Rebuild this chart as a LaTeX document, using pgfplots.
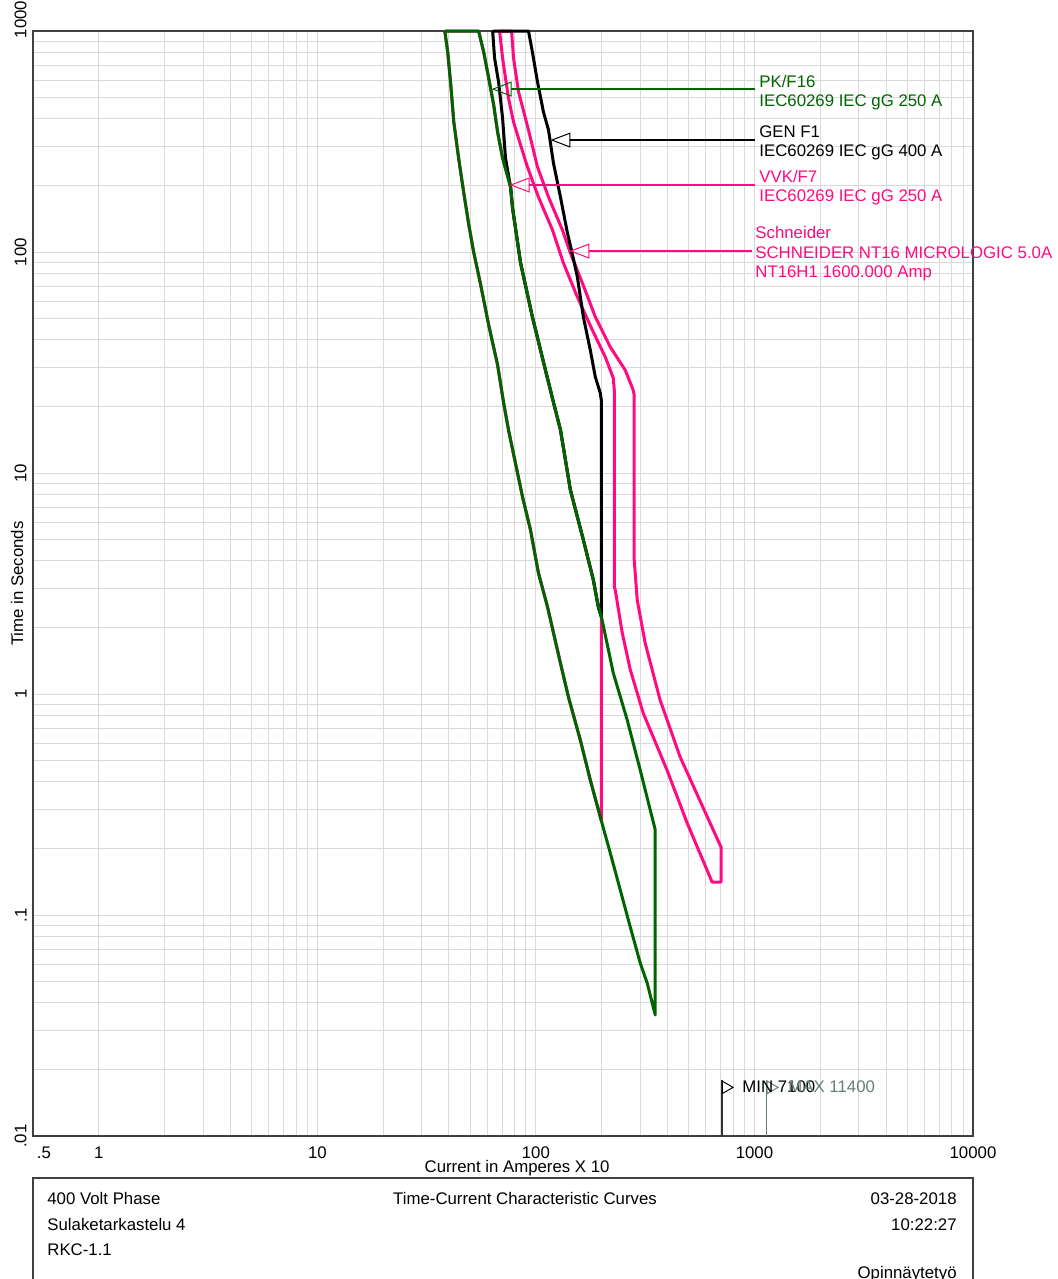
\documentclass[border=0pt]{standalone}
\usepackage{pgfplots}
\pgfplotsset{compat=1.18}
\usepackage{fontspec}
\setmainfont{Liberation Sans}
\usetikzlibrary{arrows.meta}
\definecolor{dgreen}{RGB}{0,100,0}
\definecolor{hpink}{RGB}{255,10,128}
\definecolor{maxgray}{RGB}{100,128,116}
\begin{document}
\begin{tikzpicture}[font=\fontsize{8.4}{10}\selectfont]
\useasboundingbox (0,0) rectangle (529pt,-639.5pt);
\begin{axis}[
 at={(16.5pt,-568pt)}, anchor=south west,
 scale only axis, width=470pt, height=552.5pt,
 xmode=log, ymode=log,
 xmin=0.5, xmax=10000, ymin=0.01, ymax=1000,
 xtick={1,10,100,1000,10000}, xticklabels={1,10,100,1000,10000},
 ytick={0.01,0.1,1,10,100,1000}, yticklabels={.01,.1,1,10,100,\hspace*{11.5pt}1000},
 extra x ticks={0.5}, extra x tick labels={.5},
 extra x tick style={grid=none, xticklabel style={xshift=5.5pt}},
 grid=both,
 major grid style={gray!30, line width=0.5pt},
 minor grid style={gray!30, line width=0.5pt},
 major tick length=0pt, minor tick length=0pt,
 axis line style={black!75, line width=0.6pt},
 tick label style={font=\fontsize{8.4}{10}\selectfont},
 xticklabel style={yshift=-2pt},
 yticklabel style={rotate=90, anchor=south, inner sep=0pt},
 yticklabel shift=3pt,
 xlabel={Current in Amperes X 10}, ylabel={Time in Seconds},
 label style={font=\fontsize{8.4}{10}\selectfont},
 xlabel style={at={(axis description cs:0.515,-0.0295)}, anchor=center},
 ylabel style={at={(axis description cs:-0.017,0.5)}, anchor=center},
 clip=false,
]
% VVK/F7 band (mostly hidden under PK/F16)
\addplot[hpink, line width=1.5pt, line join=round] coordinates {
(38.3,1000) (39.5,803) (40.8,570) (42.1,388) (44.3,266) (46.7,187) (49.3,133) (51.9,100) (55.9,71.0) (60.8,46.8) (66.8,30.8) (71.1,20.9) (74.9,15.7) (86.9,7.78) (94.5,5.52) (102.7,3.53) (113.0,2.48) (129.5,1.38) (140.9,0.969) (159.7,0.619) (177.4,0.408) (199.2,0.267)
(199.2,2.25) (193,2.48) (183.2,3.28) (164.9,4.98) (143.8,8.38) (129.5,15.7) (120.3,20.9) (110.6,29.2) (96.4,50.8) (85.1,89.2) (78.2,158) (76.6,196.8) (70.4,266) (66.8,349) (64.1,463) (60.8,613) (57.7,803) (54.7,1000) (38.3,1000)};
% Schneider band
\addplot[hpink, line width=1.5pt, line join=round] coordinates {
(68.2,1000) (70.4,755) (72.6,613) (74.9,498) (79.0,388) (85.1,305) (91.5,242.4) (102.7,177.4) (119.1,125.8) (133.6,89.2) (154.8,62.6) (181.2,44.4) (207.7,33.5) (226.0,26.9) (228.4,23.7) (228.4,3.05) (230.7,2.96) (248.4,1.89) (270.2,1.29) (309.7,0.820) (398,0.453) (492,0.261) (640,0.141) (703,0.141)
(703,0.203) (457,0.519) (370,0.940) (316.3,1.70) (290.9,2.66) (281.7,4.04) (281.7,22.5) (278.9,23.7) (256.4,29.2) (218.9,37.2) (187.1,50.8) (163.2,72.4) (143.8,99.0) (132.2,125.8) (114.2,177.4) (101.7,242.4) (92.5,356.4) (83.3,530) (79.0,755) (77.4,1000) (68.2,1000)};
% GEN F1 band
\addplot[black, line width=1.5pt, line join=round] coordinates {
(63.4,1000) (64.7,755) (67.5,588) (70.4,404) (72.6,266) (76.6,196.8) (78.2,158) (85.1,89.2) (96.4,50.8) (110.6,29.2) (120.3,20.9) (129.5,15.7) (143.8,8.38) (164.9,4.98) (183.2,3.28) (193,2.48) (199.2,2.23)
(199.2,21.4) (197.1,23.0) (187.0,27.2) (177.4,36.0) (164.9,50.8) (154.8,77.1) (145.4,102.1) (139.4,122) (129.5,177.4) (120.3,252.8) (114.2,356.4) (108.3,430) (101.7,588) (96.4,803) (92.5,1000) (63.4,1000)};
% PK/F16 band
\addplot[dgreen, line width=1.5pt, line join=round] coordinates {
(38.3,1000) (39.5,803) (40.8,570) (42.1,388) (44.3,266) (46.7,187) (49.3,133) (51.9,100) (55.9,71.0) (60.8,46.8) (66.8,30.8) (71.1,20.9) (74.9,15.7) (86.9,7.78) (94.5,5.52) (102.7,3.53) (113.0,2.48) (129.5,1.38) (140.9,0.969) (159.7,0.619) (177.4,0.408) (203.4,0.248) (218.9,0.191) (270.2,0.0883) (300.1,0.0607) (323,0.0492) (351.6,0.0353)
(351.6,0.243) (300.1,0.453) (261.8,0.762) (226,1.245) (199.2,2.25) (193,2.48) (183.2,3.28) (164.9,4.98) (143.8,8.38) (129.5,15.7) (120.3,20.9) (110.6,29.2) (96.4,50.8) (85.1,89.2) (78.2,158) (76.6,196.8) (70.4,266) (66.8,349) (64.1,463) (60.8,613) (57.7,803) (54.7,1000) (38.3,1000)};
% leader lines
\addplot[dgreen, line width=0.7pt, -{Triangle[open,length=10pt,width=7.5pt,line width=0.5pt]}] coordinates {(1005,546) (62.7,546)};
\addplot[black, line width=0.7pt, -{Triangle[open,length=10pt,width=7.5pt,line width=0.5pt]}] coordinates {(1005,321) (116.6,321)};
\addplot[hpink, line width=0.7pt, -{Triangle[open,length=10pt,width=7.5pt,line width=0.5pt]}] coordinates {(1005,201) (75.8,201)};
\addplot[hpink, line width=0.7pt, -{Triangle[open,length=10pt,width=7.5pt,line width=0.5pt]}] coordinates {(973,101) (142.3,101)};
% MIN / MAX markers
\addplot[black!80, line width=0.6pt] coordinates {(710,0.01) (710,0.0179)};
\addplot[only marks, mark=triangle, mark size=3.6pt, mark options={rotate=-90, black, line width=0.5pt}] coordinates {(740,0.0166)};
\addplot[maxgray, line width=0.6pt] coordinates {(1140,0.01) (1140,0.0179)};
\addplot[only marks, mark=triangle, mark size=3.6pt, mark options={rotate=-90, maxgray, line width=0.5pt}] coordinates {(1188,0.0166)};
\end{axis}
% annotation texts
\node[anchor=base west, text=dgreen, inner sep=0pt] at (379.5pt,-44pt) {PK/F16};
\node[anchor=base west, text=dgreen, inner sep=0pt] at (379.5pt,-53.5pt) {IEC60269 IEC gG 250 A};
\node[anchor=base west, text=black, inner sep=0pt] at (379.5pt,-69pt) {GEN F1};
\node[anchor=base west, text=black, inner sep=0pt] at (379.5pt,-78pt) {IEC60269 IEC gG 400 A};
\node[anchor=base west, text=hpink, inner sep=0pt] at (379.5pt,-91.5pt) {VVK/F7};
\node[anchor=base west, text=hpink, inner sep=0pt] at (379.5pt,-100.5pt) {IEC60269 IEC gG 250 A};
\node[anchor=base west, text=hpink, inner sep=0pt] at (377.5pt,-119pt) {Schneider};
\node[anchor=base west, text=hpink, inner sep=0pt] at (377.5pt,-129pt) {SCHNEIDER NT16 MICROLOGIC 5.0A};
\node[anchor=base west, text=hpink, inner sep=0pt] at (377.5pt,-138.5pt) {NT16H1 1600.000 Amp};
\node[anchor=base west, text=black, inner sep=0pt] at (371pt,-546pt) {MIN 7100};
\node[anchor=base west, text=maxgray, inner sep=0pt] at (394pt,-546pt) {MAX 11400};
% title block
\draw[black!75, line width=0.6pt] (16.5pt,-589pt) rectangle (486.5pt,-642pt);
\node[anchor=base west, inner sep=0pt] at (23.5pt,-602pt) {400 Volt Phase};
\node[anchor=base west, inner sep=0pt] at (23.5pt,-615pt) {Sulaketarkastelu 4};
\node[anchor=base west, inner sep=0pt] at (23.5pt,-627.5pt) {RKC-1.1};
\node[anchor=base, inner sep=0pt] at (262.5pt,-602pt) {Time-Current Characteristic Curves};
\node[anchor=base east, inner sep=0pt] at (478.5pt,-602pt) {03-28-2018};
\node[anchor=base east, inner sep=0pt] at (478.5pt,-615pt) {10:22:27};
\node[anchor=base east, inner sep=0pt] at (478.5pt,-639pt) {Opinnäytetyö};
\end{tikzpicture}
\end{document}
